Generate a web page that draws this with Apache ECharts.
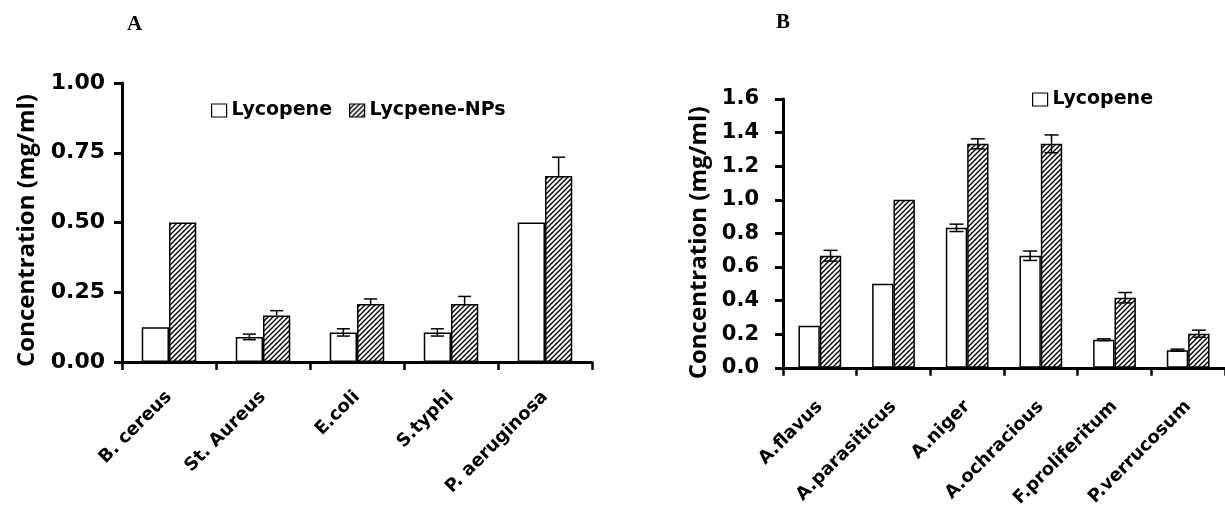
<!DOCTYPE html>
<html><head><meta charset="utf-8">
<script src="https://cdn.jsdelivr.net/npm/echarts@6/dist/echarts.min.js"></script>
<style>html,body{margin:0;padding:0;background:#fff}#c{width:1225px;height:510px}</style>
</head><body><div id="c"></div>
<script>
// ---- Data ----
const catsA = ['B. cereus', 'St. Aureus', 'E.coli', 'S.typhi', 'P. aeruginosa'];
const lycA = [0.125, 0.09, 0.106, 0.106, 0.5];
const lycErrA = [0, 0.01, 0.013, 0.013, 0];
const npsA = [0.5, 0.167, 0.208, 0.208, 0.667];
const npsErrA = [0, 0.017, 0.018, 0.027, 0.067];

const catsB = ['A.flavus', 'A.parasiticus', 'A.niger', 'A.ochracious', 'F.proliferitum', 'P.verrucosum'];
const lycB = [0.25, 0.5, 0.833, 0.667, 0.167, 0.105];
const lycErrB = [0, 0, 0.022, 0.028, 0.005, 0.006];
const npsB = [0.667, 1.0, 1.333, 1.333, 0.417, 0.203];
const npsErrB = [0.032, 0, 0.03, 0.053, 0.031, 0.021];

const seriesNames = ['Lycopene', 'Lycpene-NPs'];
const panelTitles = ['A', 'B'];
const yTitle = 'Concentration (mg/ml)';

// ---- Styling helpers ----
const FONT_T = '"Open Sans", "Noto Sans", sans-serif';
const FONT = '"DejaVu Sans", sans-serif';
function hatch() {
  const s = 5;
  const c = document.createElement('canvas');
  c.width = s; c.height = s;
  const g = c.getContext('2d');
  g.fillStyle = '#fff'; g.fillRect(0, 0, s, s);
  g.strokeStyle = '#000'; g.lineWidth = 1.4;
  g.beginPath();
  g.moveTo(0, s); g.lineTo(s, 0);
  g.moveTo(-1, 1); g.lineTo(1, -1);
  g.moveTo(s - 1, s + 1); g.lineTo(s + 1, s - 1);
  g.stroke();
  return c;
}
const hatchFill = { image: hatch(), repeat: 'repeat' };
const BW = 0.29;

function errSeries(xi, vals, errs, side, plusOnly, cap) {
  return {
    type: 'custom', xAxisIndex: xi, yAxisIndex: xi, z: 10, silent: true,
    encode: { x: 0, y: 1 },
    data: vals.map((v, i) => [i, v, errs[i]]),
    renderItem(params, api) {
      const i = api.value(0), v = api.value(1), e = api.value(2);
      if (!e) return null;
      const cw = api.size([1, 0])[0];
      const x = api.coord([i, v])[0] + side * cw * BW / 2;
      const top = api.coord([i, v + e])[1];
      const bot = plusOnly ? api.coord([i, v])[1] : api.coord([i, v - e])[1];
      const st = { stroke: '#000', lineWidth: 1.5 };
      const ch = [
        { type: 'line', shape: { x1: x, y1: top, x2: x, y2: bot }, style: st },
        { type: 'line', shape: { x1: x - cap, y1: top, x2: x + cap, y2: top }, style: st }
      ];
      if (!plusOnly) ch.push({ type: 'line', shape: { x1: x - cap, y1: bot, x2: x + cap, y2: bot }, style: st });
      return { type: 'group', children: ch };
    }
  };
}

function xAx(gi, cats, margin) {
  return {
    type: 'category', gridIndex: gi, data: cats,
    axisLine: { lineStyle: { color: '#000', width: 3 } },
    axisTick: { show: true, interval: 0, length: 8, lineStyle: { color: '#000', width: 2.5 } },
    axisLabel: { interval: 0, rotate: 45, margin: margin, color: '#000', fontFamily: FONT, fontWeight: 'bold', fontSize: 18 },
    splitLine: { show: false }
  };
}
function yAx(gi, max, interval, digits, gap, margin, fs, shift) {
  return {
    type: 'value', gridIndex: gi, min: 0, max: max, interval: interval,
    name: yTitle, nameLocation: 'middle', nameGap: gap, nameRotate: 90,
    nameTextStyle: { color: '#000', fontFamily: FONT_T, fontWeight: 'bold', fontSize: 24, padding: [0, shift, 0, 0] },
    axisLine: { show: true, lineStyle: { color: '#000', width: 3 } },
    axisTick: { show: true, length: 8, lineStyle: { color: '#000', width: 3 } },
    axisLabel: { color: '#000', fontFamily: FONT, fontWeight: 'bold', fontSize: fs, margin: margin,
      formatter: v => v.toFixed(digits) },
    splitLine: { show: false }
  };
}
function barS(gi, name, data, fill) {
  return {
    type: 'bar', name: name, xAxisIndex: gi, yAxisIndex: gi, data: data,
    barWidth: (BW * 100) + '%', barGap: '0%',
    itemStyle: { color: fill, borderColor: '#000', borderWidth: 1.5 },
    emphasis: { disabled: true }
  };
}

const legendText = { color: '#000', fontFamily: FONT, fontWeight: 'bold', fontSize: 19 };
const chart = echarts.init(document.getElementById('c'));
chart.setOption({
  animation: false,
  backgroundColor: '#fff',
  grid: [
    { left: 122, top: 83, width: 470, height: 279 },
    { left: 783, top: 99, width: 450, height: 273 }
  ],
  legend: [
    { data: seriesNames, left: 206, top: 96, icon: 'rect', itemWidth: 15, itemHeight: 13, itemGap: 17,
      textStyle: legendText, itemStyle: { borderColor: '#000', borderWidth: 1.2 } },
    { data: [seriesNames[0]], left: 1027, top: 85, icon: 'rect', itemWidth: 15, itemHeight: 13,
      textStyle: legendText, itemStyle: { borderColor: '#000', borderWidth: 1.2 } }
  ],
  graphic: [
    { type: 'text', left: 127, top: 14, style: { text: panelTitles[0], fill: '#000', font: 'bold 21px "Liberation Serif", serif' } },
    { type: 'text', left: 776, top: 12, style: { text: panelTitles[1], fill: '#000', font: 'bold 21px "Liberation Serif", serif' } }
  ],
  xAxis: [xAx(0, catsA, 32), xAx(1, catsB, 36)],
  yAxis: [yAx(0, 1, 0.25, 2, 83, 17, 22, 16), yAx(1, 1.6, 0.2, 1, 72, 24, 21, 19)],
  series: [
    barS(0, seriesNames[0], lycA, '#fff'),
    barS(0, seriesNames[1], npsA, hatchFill),
    barS(1, seriesNames[0], lycB, '#fff'),
    barS(1, seriesNames[1], npsB, hatchFill),
    errSeries(0, lycA, lycErrA, -1, false, 6.5),
    errSeries(0, npsA, npsErrA, 1, true, 6.5),
    errSeries(1, lycB, lycErrB, -1, false, 7),
    errSeries(1, npsB, npsErrB, 1, false, 7)
  ]
});
</script></body></html>
